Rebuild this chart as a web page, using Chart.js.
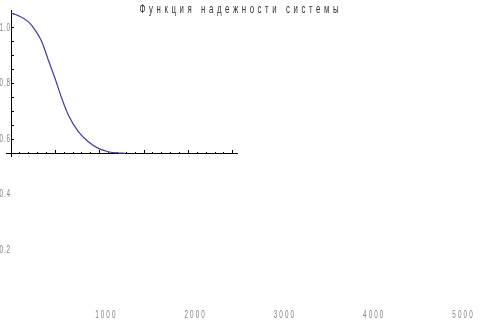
<!DOCTYPE html>
<html>
<head>
<meta charset="utf-8">
<script src="https://cdn.jsdelivr.net/npm/chart.js@4"></script>
<style>
	html, body { margin: 0; padding: 0; background: #fff; }
	#wrap { position: relative; width: 480px; height: 324px; overflow: hidden; }
	canvas { position: absolute; }
	#bg { left: 0; top: 0; }
	#inset { left: 6px; top: 10px; }
</style>
</head>
<body>
<div id="wrap">
	<canvas id="bg" width="480" height="324"></canvas>
	<canvas id="inset" width="232" height="147"></canvas>
</div>
<script>
const titleText = "Функция надежности системы";

// time (hours) and reliability
const timeHours = [0, 165, 390, 541, 692, 841, 992, 1143, 1292, 1518, 1743, 1969, 2194, 2420, 2571];
const reliability = [1.0, 0.983, 0.94, 0.881, 0.798, 0.667, 0.537, 0.395, 0.276, 0.157, 0.085, 0.038, 0.014, 0.005, 0.003];

// tick labels of the outer axes
const xTickValues = [1000, 2000, 3000, 4000, 5000];
const yTickValues = [0.2, 0.4, 0.6, 0.8, 1.0];

// tick marks of the small axes
const insetMajorX = [1000, 2000, 3000, 4000, 5000];
const insetMinorX = Array.from({ length: 25 }, (_, i) => (i + 1) * 200);
const insetTicksY = [0.1, 0.2, 0.3, 0.4, 0.5, 0.6, 0.7, 0.8, 0.9, 1.0];

const LABEL_COLOR = "#808080";

const setTicks = (values) => (scale) => {
	scale.ticks = values.map((v) => ({ value: v }));
};

// narrow, spaced-out text like the original rendering
function squeezedText(ctx, text, x, y, { size, k, spacing, align, color }) {
	ctx.save();
	ctx.font = size + "px 'Liberation Sans', Arial, sans-serif";
	ctx.letterSpacing = spacing + "px";
	ctx.fillStyle = color;
	ctx.textBaseline = "middle";
	ctx.textAlign = "left";
	const w = (ctx.measureText(text).width - spacing) * k;
	let left = x;
	if (align === "center") left = x - w / 2;
	if (align === "right") left = x - w;
	ctx.translate(left, y);
	ctx.scale(k, 1);
	ctx.fillText(text, 0, 0);
	ctx.restore();
}

const labelPlugin = {
	id: "squeezedLabels",
	afterDraw(chart) {
		const { ctx, scales } = chart;
		xTickValues.forEach((v) => {
			squeezedText(ctx, String(v), scales.x.getPixelForValue(v), 315, {
				size: 11.5, k: 0.55, spacing: 3.8, align: "center", color: LABEL_COLOR,
			});
		});
		yTickValues.forEach((v) => {
			squeezedText(ctx, v.toFixed(1), scales.x.left - 6, scales.y.getPixelForValue(v), {
				size: 11.5, k: 0.55, spacing: 1.5, align: "right", color: LABEL_COLOR,
			});
		});
		squeezedText(ctx, titleText, 239, 9, {
			size: 13, k: 0.6, spacing: 6, align: "center", color: "#333",
		});
	},
};

// outer chart: full-scale axes that only carry the labels
new Chart(document.getElementById("bg"), {
	type: "line",
	data: { datasets: [] },
	options: {
		responsive: false,
		animation: false,
		layout: { padding: 0, autoPadding: false },
		plugins: { legend: { display: false }, tooltip: { enabled: false } },
		scales: {
			x: {
				type: "linear",
				min: 0,
				max: 5196,
				afterBuildTicks: setTicks(xTickValues),
				afterFit: (s) => {
					s.height = 19;
					s.paddingLeft = 0;
					s.paddingRight = 0;
				},
				grid: { display: false, drawTicks: false },
				border: { display: false },
				ticks: { display: false },
			},
			y: {
				type: "linear",
				min: 0,
				max: 1.099,
				afterBuildTicks: setTicks(yTickValues),
				afterFit: (s) => {
					s.width = 16;
					s.paddingTop = 0;
					s.paddingBottom = 0;
				},
				grid: { display: false, drawTicks: false },
				border: { display: false },
				ticks: { display: false },
			},
		},
	},
	plugins: [labelPlugin],
});

// small chart: the curve with its own axes
const tickAxis = (values, len, extra) => ({
	type: "linear",
	afterBuildTicks: setTicks(values),
	grid: { drawOnChartArea: false, drawTicks: true, tickLength: -len, tickColor: "#000", tickWidth: 1 },
	ticks: { display: false },
	...extra,
});

new Chart(document.getElementById("inset"), {
	type: "line",
	data: {
		datasets: [
			{
				label: "R(t)",
				data: timeHours.map((t, i) => ({ x: t, y: reliability[i] })),
				xAxisID: "x",
				yAxisID: "y",
				borderColor: "#3d3d9e",
				borderWidth: 1.2,
				pointRadius: 0,
				cubicInterpolationMode: "monotone",
				fill: false,
			},
		],
	},
	options: {
		responsive: false,
		animation: false,
		layout: { padding: 0, autoPadding: false },
		plugins: { legend: { display: false }, tooltip: { enabled: false } },
		scales: {
			x: tickAxis(insetMinorX, 2, {
				min: -113,
				max: 5118,
				position: { y: 0 },
				border: { display: true, color: "#000", width: 1 },
			}),
			xMajor: tickAxis(insetMajorX, 4, {
				axis: "x",
				min: -113,
				max: 5118,
				position: { y: 0 },
				border: { display: false },
			}),
			y: tickAxis(insetTicksY, 3, {
				min: -0.0235,
				max: 1.023,
				position: { x: 0 },
				border: { display: true, color: "#000", width: 1 },
			}),
		},
	},
});
</script>
</body>
</html>
